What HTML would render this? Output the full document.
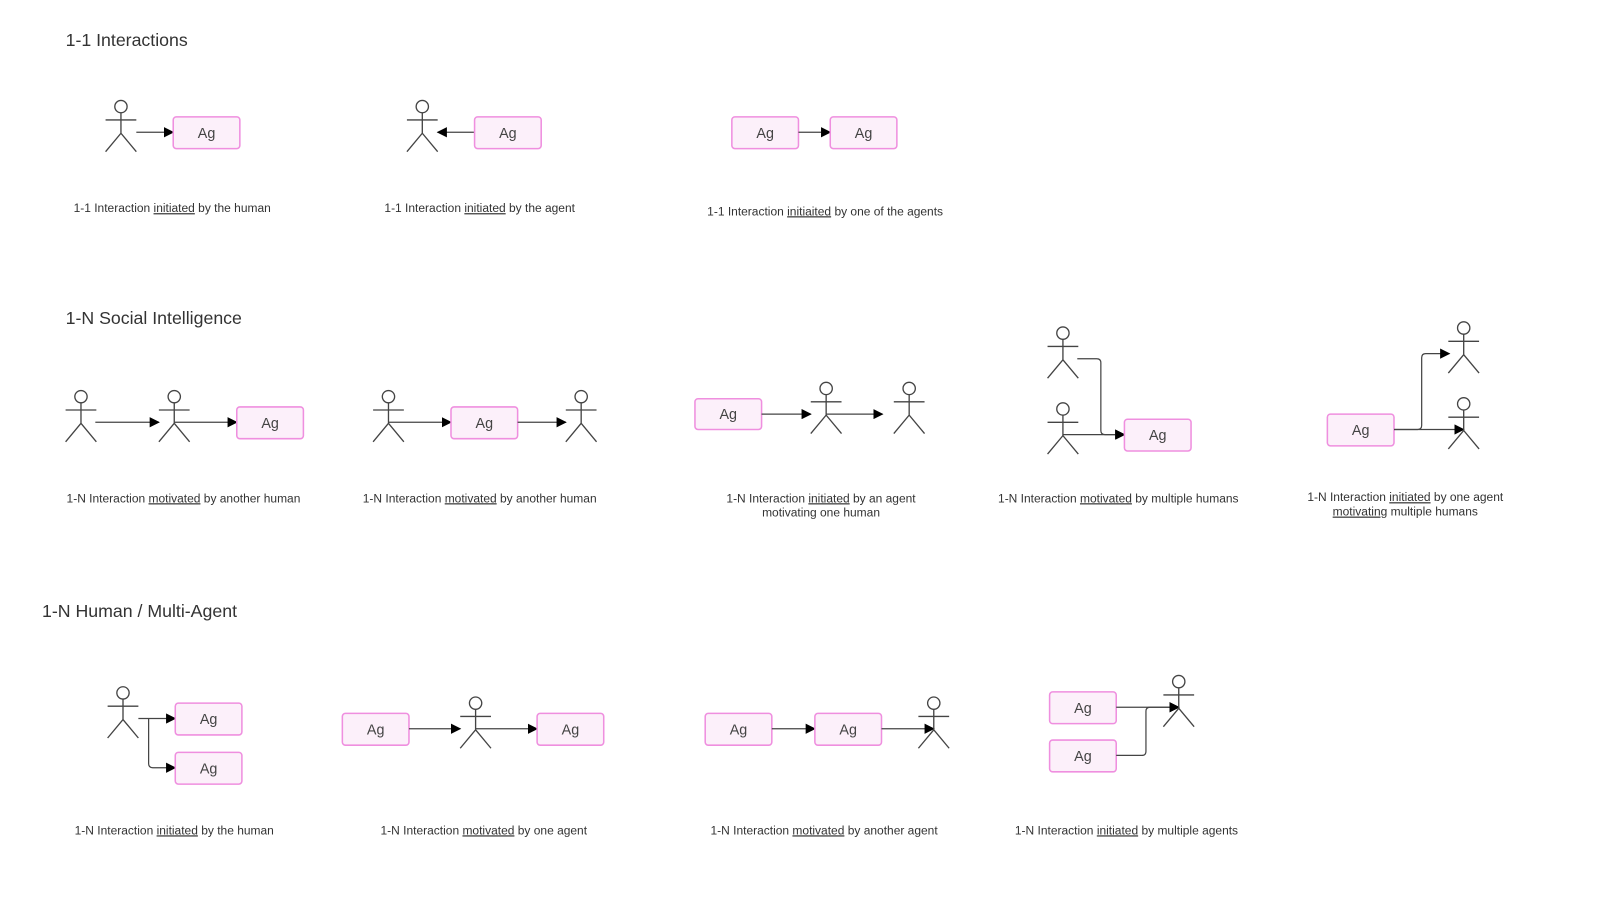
<!DOCTYPE html>
<html><head><meta charset="utf-8">
<style>
html,body{margin:0;padding:0;background:#fff;}
svg{display:block;font-family:"Liberation Sans",Arial,sans-serif;}
.cap{font-size:11.7px;fill:#333;}
.ttl{font-size:17.3px;fill:#333;}
.ag{font-size:14px;fill:#444;}
</style></head>
<body>
<svg width="1608" height="922" viewBox="0 0 1608 922" xmlns="http://www.w3.org/2000/svg">
<defs><marker id="ah" markerWidth="10" markerHeight="10" refX="9" refY="5" orient="auto" markerUnits="userSpaceOnUse"><path d="M0,0 L10,5 L0,10 z" fill="#000"/></marker></defs>
<g id="s" transform="scale(1.025)">
<text class="ttl" x="64" y="45">1-1 Interactions</text>
<text class="ttl" x="64" y="316">1-N Social Intelligence</text>
<text class="ttl" x="41" y="602">1-N Human / Multi-Agent</text>
</g>
</svg>
<script>
const S=document.getElementById('s');const NS='http://www.w3.org/2000/svg';
function el(t,a,p){const e=document.createElementNS(NS,t);for(const k in a)e.setAttribute(k,a[k]);(p||S).appendChild(e);return e;}
function person(cx,top){const g=el('g',{stroke:'#444','stroke-width':1.3,fill:'none'});


el('circle',{cx:cx,cy:top+7,r:6,fill:'#fff'},g);
el('path',{d:`M${cx},${top+13}V${top+33}M${cx-15},${top+20}H${cx+15}M${cx-15},${top+51}L${cx},${top+33}L${cx+15},${top+51}`},g);}
function box(x,y,w,h){const g=el('g',{});


el('rect',{x:x,y:y,width:w||65,height:h||31,rx:3,fill:'#fcf0fa',stroke:'#ef8fdf','stroke-width':1.5},g);
const t=el('text',{x:x+(w||65)/2,y:y+(h||31)/2+5,'text-anchor':'middle',class:'ag'},g);t.textContent='Ag';}
function arr(d,head){const p=el('path',{d:d,stroke:'#444','stroke-width':1.2,fill:'none'});if(head!==false)p.setAttribute('marker-end','url(#ah)');

}
function cap(cx,y,parts){const t=el('text',{x:cx,y:y,'text-anchor':'middle',class:'cap'});


parts.forEach(p=>{const s=el('tspan',{},t);s.textContent=p[0];if(p[1])s.setAttribute('text-decoration','underline');});}
// Row 1
person(118,97);arr('M133,129H169');box(169,114);
person(412,97);arr('M463,129H427');box(463,114);
box(714,114);arr('M779,129H810');box(810,114);
cap(168,207,[['1-1 Interaction '],['initiated',1],[' by the human']]);
cap(468,207,[['1-1 Interaction '],['initiated',1],[' by the agent']]);
cap(805,210,[['1-1 Interaction '],['initiaited',1],[' by one of the agents']]);
// Row 2
person(79,380);arr('M93,412H155');person(170,380);arr('M170,412H231');box(231,397);
person(379,380);arr('M379,412H440');box(440,397);arr('M505,412H552');person(567,380);
box(678,389,65,30);arr('M743,404H791');person(806,372);arr('M806,404H861');person(887,372);
person(1037,318);person(1037,392);arr('M1051,350H1070Q1074,350 1074,354V420Q1074,424 1078,424H1097');arr('M1037,424H1097');box(1097,409);
box(1295,404);arr('M1360,419H1383Q1387,419 1387,415V349Q1387,345 1391,345H1414');arr('M1360,419H1428');person(1428,313);person(1428,387);
cap(179,490,[['1-N Interaction '],['motivated',1],[' by another human']]);
cap(468,490,[['1-N Interaction '],['motivated',1],[' by another human']]);
cap(801,490,[['1-N Interaction '],['initiated',1],[' by an agent']]);
cap(801,504,[['motivating one human']]);
cap(1091,490,[['1-N Interaction '],['motivated',1],[' by multiple humans']]);
cap(1371,489,[['1-N Interaction '],['initiated',1],[' by one agent']]);
cap(1371,503,[['motivating',1],[' multiple humans']]);
// Row 3
person(120,669);arr('M135,701H171');box(171,686);arr('M145,701V745Q145,749 149,749H171');box(171,734);
box(334,696);arr('M399,711H449');person(464,679);arr('M464,711H524');box(524,696);
box(688,696);arr('M753,711H795');box(795,696);arr('M860,711H911');person(911,679);
box(1024,675);box(1024,722);arr('M1089,690H1150');arr('M1089,737H1114Q1118,737 1118,733V694Q1118,690 1122,690H1150');person(1150,658);
cap(170,814,[['1-N Interaction '],['initiated',1],[' by the human']]);
cap(472,814,[['1-N Interaction '],['motivated',1],[' by one agent']]);
cap(804,814,[['1-N Interaction '],['motivated',1],[' by another agent']]);
cap(1099,814,[['1-N Interaction '],['initiated',1],[' by multiple agents']]);
</script>
</body></html>
